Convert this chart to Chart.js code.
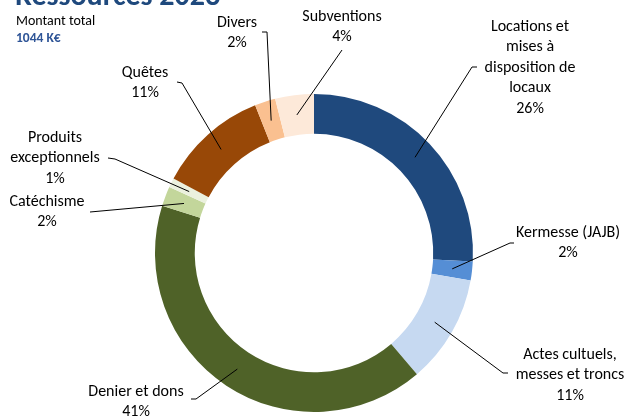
<!DOCTYPE html>
<html>
<head>
<meta charset="utf-8">
<script src="https://cdn.jsdelivr.net/npm/chart.js@4/dist/chart.umd.min.js"></script>
<style>
  html, body { margin: 0; padding: 0; background: #fff; }
  #wrap { position: relative; width: 629px; height: 416px; }
</style>
</head>
<body>
<div id="wrap"><canvas id="c" width="629" height="416"></canvas></div>
<script>
// ---- Data ----
const categories = [
  "Locations et mises à disposition de locaux",
  "Kermesse (JAJB)",
  "Actes cultuels, messes et troncs",
  "Denier et dons",
  "Catéchisme",
  "Produits exceptionnels",
  "Quêtes",
  "Divers",
  "Subventions"
];
const values = [270, 20, 115, 428, 21, 10, 117, 22, 41]; // K€
const labelLines = [
  ["Locations et", "mises à", "disposition de", "locaux"],
  ["Kermesse (JAJB)"],
  ["Actes cultuels,", "messes et troncs"],
  ["Denier et dons"],
  ["Catéchisme"],
  ["Produits", "exceptionnels"],
  ["Quêtes"],
  ["Divers"],
  ["Subventions"]
];
const titleText = "Ressources 2023";
const subtitleText = "Montant total";
const totalText = "1044 K€";

// ---- Styles / layout ----
const colors = ["#1F497D", "#558ED5", "#C6D9F1", "#4F6228", "#C3D69B", "#EBF1DE", "#984807", "#FAC090", "#FDE9D9"];
const FONT = "Carlito, Lato, 'Liberation Sans', sans-serif";
// label placement: center x, first line center y, leader path points (from slice anchor outward)
const labelLayout = [
  { x: 530, y: 27,  path: [[472, 67], [477, 67]] },
  { x: 568, y: 233, path: [[510, 243], [514, 243]] },
  { x: 570, y: 355, path: [[503, 373], [508, 373]] },
  { x: 136, y: 392, path: [[196, 399], [191, 399]] },
  { x: 47,  y: 202, path: [[90, 212]] },
  { x: 55,  y: 138, path: [[115, 159], [108, 158]] },
  { x: 145, y: 73,  path: [[182, 83], [177, 82]] },
  { x: 237, y: 23,  path: [[267, 32], [262, 32]] },
  { x: 342, y: 17,  path: [[342, 50]] }
];
const LINE_H = 20.4;

const labelsPlugin = {
  id: 'labelsPlugin',
  afterDraw(chart) {
    const ctx = chart.ctx;
    const meta = chart.getDatasetMeta(0);
    const total = values.reduce((a, b) => a + b, 0);
    ctx.save();
    // title block
    ctx.fillStyle = "#1F497D";
    ctx.font = "bold 30px " + FONT;
    ctx.textAlign = "left";
    ctx.textBaseline = "alphabetic";
    ctx.fillText(titleText, 15, 5);
    ctx.fillStyle = "#000";
    ctx.font = "14px " + FONT;
    ctx.fillText(subtitleText, 16, 25);
    ctx.fillStyle = "#2F5597";
    ctx.font = "bold 13.5px " + FONT;
    ctx.fillText(totalText, 16, 42);

    // leader lines
    ctx.strokeStyle = "#000";
    ctx.lineWidth = 1;
    meta.data.forEach((arc, i) => {
      const p = arc.tooltipPosition();
      const lay = labelLayout[i];
      ctx.beginPath();
      ctx.moveTo(p.x, p.y);
      lay.path.forEach(pt => ctx.lineTo(pt[0], pt[1]));
      ctx.stroke();
    });

    // labels
    ctx.fillStyle = "#000";
    ctx.font = "16px " + FONT;
    ctx.textAlign = "center";
    ctx.textBaseline = "middle";
    labelLines.forEach((lines, i) => {
      const lay = labelLayout[i];
      const all = lines.concat([Math.round(values[i] / total * 100) + "%"]);
      all.forEach((t, k) => ctx.fillText(t, lay.x, lay.y + k * LINE_H));
    });
    ctx.restore();
  }
};

new Chart(document.getElementById('c'), {
  type: 'doughnut',
  data: {
    labels: categories,
    datasets: [{
      data: values,
      backgroundColor: colors,
      borderWidth: 0,
      hoverOffset: 0
    }]
  },
  options: {
    responsive: false,
    animation: false,
    cutout: '75%',
    rotation: 0,
    layout: { padding: { left: 155, right: 156, top: 94, bottom: 4 } },
    plugins: {
      legend: { display: false },
      title: { display: false },
      tooltip: { enabled: false }
    }
  },
  plugins: [labelsPlugin]
});
</script>
</body>
</html>
